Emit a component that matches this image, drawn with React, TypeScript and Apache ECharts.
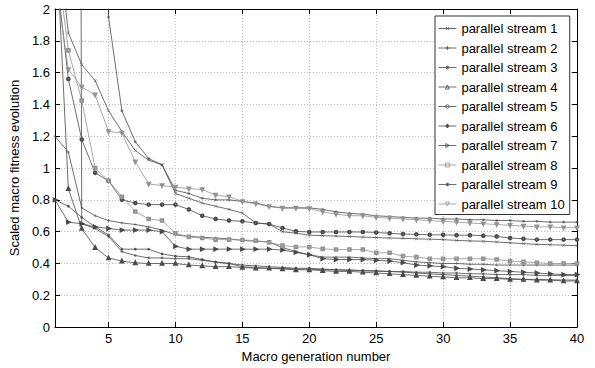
import React, { useEffect, useRef } from "react";
import * as echarts from "echarts";

const generations = [1, 2, 3, 4, 5, 6, 7, 8, 9, 10, 11, 12, 13, 14, 15, 16, 17, 18, 19, 20, 21, 22, 23, 24, 25, 26, 27, 28, 29, 30, 31, 32, 33, 34, 35, 36, 37, 38, 39, 40];
const xTickValues = [5, 10, 15, 20, 25, 30, 35, 40];

const streamNames = [
  "parallel stream 1", "parallel stream 2", "parallel stream 3", "parallel stream 4", "parallel stream 5",
  "parallel stream 6", "parallel stream 7", "parallel stream 8", "parallel stream 9", "parallel stream 10",
];

const stream1 = [2.6, 1.85, 1.65, 1.55, 1.36, 1.23, 1.11, 1.05, 1.02, 0.84, 0.81, 0.78, 0.76, 0.74, 0.717, 0.655, 0.648, 0.6, 0.59, 0.578, 0.575, 0.572, 0.57, 0.566, 0.563, 0.56, 0.558, 0.555, 0.553, 0.55, 0.545, 0.542, 0.54, 0.535, 0.53, 0.525, 0.52, 0.518, 0.515, 0.512];
const stream2 = [1.2, 1.1, 0.75, 0.7, 0.67, 0.655, 0.645, 0.63, 0.61, 0.58, 0.57, 0.565, 0.56, 0.555, 0.545, 0.54, 0.535, 0.5, 0.475, 0.455, 0.44, 0.44, 0.44, 0.435, 0.43, 0.43, 0.42, 0.41, 0.405, 0.4, 0.4, 0.395, 0.395, 0.39, 0.39, 0.39, 0.39, 0.39, 0.39, 0.39];
const stream3 = [30, 20, 12, 8, 1.95, 1.36, 1.165, 1.06, 1.02, 0.86, 0.84, 0.81, 0.8, 0.8, 0.79, 0.78, 0.76, 0.75, 0.75, 0.75, 0.74, 0.725, 0.715, 0.71, 0.7, 0.695, 0.69, 0.685, 0.685, 0.68, 0.68, 0.675, 0.675, 0.67, 0.67, 0.665, 0.665, 0.66, 0.66, 0.66];
const stream4 = [2.6, 0.87, 0.62, 0.5, 0.435, 0.415, 0.404, 0.4, 0.4, 0.4, 0.39, 0.385, 0.38, 0.38, 0.375, 0.37, 0.37, 0.365, 0.36, 0.36, 0.355, 0.35, 0.35, 0.345, 0.34, 0.335, 0.33, 0.325, 0.32, 0.315, 0.31, 0.31, 0.305, 0.305, 0.3, 0.3, 0.295, 0.295, 0.29, 0.29];
const stream5 = [2.3, 1.56, 1.18, 0.97, 0.92, 0.8, 0.78, 0.77, 0.77, 0.77, 0.74, 0.7, 0.68, 0.67, 0.665, 0.654, 0.648, 0.623, 0.602, 0.598, 0.598, 0.598, 0.598, 0.598, 0.595, 0.59, 0.585, 0.583, 0.58, 0.58, 0.578, 0.578, 0.575, 0.57, 0.56, 0.555, 0.55, 0.55, 0.55, 0.55];
const stream6 = [0.8, 0.76, 0.69, 0.63, 0.58, 0.49, 0.49, 0.49, 0.46, 0.446, 0.442, 0.425, 0.408, 0.4, 0.38, 0.375, 0.37, 0.37, 0.365, 0.365, 0.36, 0.36, 0.355, 0.355, 0.35, 0.35, 0.345, 0.34, 0.335, 0.33, 0.325, 0.32, 0.315, 0.31, 0.305, 0.3, 0.3, 0.298, 0.296, 0.296];
const stream7 = [0.8, 0.66, 0.65, 0.63, 0.62, 0.61, 0.61, 0.61, 0.6, 0.508, 0.49, 0.49, 0.49, 0.49, 0.49, 0.49, 0.49, 0.485, 0.47, 0.455, 0.43, 0.425, 0.425, 0.425, 0.42, 0.415, 0.405, 0.39, 0.385, 0.38, 0.37, 0.365, 0.36, 0.355, 0.35, 0.345, 0.34, 0.335, 0.33, 0.33];
const stream8 = [2.4, 1.74, 1.425, 1.0, 0.92, 0.82, 0.727, 0.68, 0.67, 0.59, 0.567, 0.56, 0.55, 0.55, 0.548, 0.544, 0.533, 0.5125, 0.504, 0.504, 0.492, 0.4875, 0.4875, 0.4875, 0.467, 0.467, 0.446, 0.44, 0.43, 0.43, 0.43, 0.43, 0.43, 0.425, 0.415, 0.41, 0.405, 0.4, 0.4, 0.4];
const stream9 = [40, 30, 0.65, 0.62, 0.57, 0.475, 0.45, 0.435, 0.435, 0.43, 0.43, 0.42, 0.41, 0.4, 0.39, 0.385, 0.38, 0.375, 0.37, 0.37, 0.365, 0.36, 0.36, 0.355, 0.355, 0.35, 0.35, 0.345, 0.345, 0.34, 0.34, 0.335, 0.335, 0.33, 0.33, 0.33, 0.325, 0.325, 0.325, 0.325];
const stream10 = [2.2, 1.62, 1.51, 1.46, 1.23, 1.22, 1.04, 0.9, 0.89, 0.88, 0.87, 0.865, 0.83, 0.82, 0.79, 0.775, 0.758, 0.748, 0.748, 0.745, 0.725, 0.71, 0.7, 0.7, 0.69, 0.685, 0.68, 0.675, 0.67, 0.665, 0.66, 0.655, 0.65, 0.645, 0.64, 0.635, 0.63, 0.63, 0.625, 0.625];

const streams = [stream1, stream2, stream3, stream4, stream5, stream6, stream7, stream8, stream9, stream10];

const CROSS = "path://M0,0L10,10M10,0L0,10";
const PLUS = "path://M5,0L5,10M0,5L10,5";
const STAR = "path://M5,0L5,10M0,5L10,5M1.5,1.5L8.5,8.5M8.5,1.5L1.5,8.5";

const markerStyles = [
  { symbol: CROSS, size: 3, rotate: 0 },
  { symbol: PLUS, size: 3, rotate: 0 },
  { symbol: STAR, size: 3, rotate: 0 },
  { symbol: "emptyTriangle", size: 2.6, rotate: 0 },
  { symbol: "emptyCircle", size: 2.6, rotate: 0 },
  { symbol: "circle", size: 2.2, rotate: 0 },
  { symbol: "emptyTriangle", size: 2.6, rotate: -90 },
  { symbol: "emptyRect", size: 2.6, rotate: 0 },
  { symbol: STAR, size: 3, rotate: 0 },
  { symbol: "emptyTriangle", size: 2.6, rotate: 180 },
];

// legend icons: sample line plus marker, drawn in an 18 x 4 box
const LINE = "M0,2L18,2";
const legendIcons = [
  "path://" + LINE + "M7.5,0.5L10.5,3.5M10.5,0.5L7.5,3.5",
  "path://" + LINE + "M9,0L9,4M7,2L11,2",
  "path://" + LINE + "M9,0L9,4M7.5,0.5L10.5,3.5M10.5,0.5L7.5,3.5",
  "path://" + LINE + "M9,0L11,4L7,4Z",
  "path://" + LINE + "M10.8,2A1.8,1.8,0,1,1,7.2,2A1.8,1.8,0,1,1,10.8,2Z",
  "path://" + LINE + "M10.4,2A1.4,1.4,0,1,1,7.6,2A1.4,1.4,0,1,1,10.4,2ZM9,0L9,4",
  "path://" + LINE + "M7.5,0L11,2L7.5,4Z",
  "path://" + LINE + "M7,0L11,0L11,4L7,4Z",
  "path://" + LINE + "M9,0L9,4M7.5,0.5L10.5,3.5M10.5,0.5L7.5,3.5",
  "path://" + LINE + "M7,0L11,0L9,4Z",
];
const legendIconFilled = [false, false, false, false, false, true, false, false, false, false];

const lineColors = ["#4a4a4a", "#4a4a4a", "#4a4a4a", "#4a4a4a", "#4a4a4a", "#4a4a4a", "#4a4a4a", "#939393", "#4a4a4a", "#939393"];

const FONT = "'Liberation Sans', Arial, Helvetica, sans-serif";

export default function App() {
  const ref = useRef<HTMLDivElement>(null);
  useEffect(() => {
    const chart = echarts.init(ref.current as HTMLDivElement, null, { renderer: "svg" });
    const grid = { type: [1, 2], color: "#b8b8b8", width: 1 };
    const series = streams.map((vals, i) => ({
      type: "line",
      name: streamNames[i],
      data: generations.map((g, j) => [g, vals[j]]),
      symbol: markerStyles[i].symbol,
      symbolSize: markerStyles[i].size,
      symbolRotate: markerStyles[i].rotate,
      showAllSymbol: true,
      clip: true,
      lineStyle: { color: lineColors[i], width: 0.8 },
      itemStyle: { color: lineColors[i], borderColor: lineColors[i], borderWidth: 0.5 },
      emphasis: { disabled: true },
      xAxisIndex: 0,
      yAxisIndex: 0,
    }));
    const legendData = streamNames.map((name, i) => ({
      name,
      icon: legendIcons[i],
      itemStyle: {
        color: legendIconFilled[i] ? lineColors[i] : "#ffffff",
        borderColor: lineColors[i],
        borderWidth: 0.8,
      },
    }));
    const option: any = {
      animation: false,
      backgroundColor: "#fff",
      textStyle: { fontFamily: FONT },
      grid: { left: 50, right: 18, top: 9, bottom: 40, containLabel: false },
      legend: {
        orient: "vertical",
        left: 435,
        top: 16,
        backgroundColor: "#fff",
        borderColor: "#333",
        borderWidth: 1,
        borderRadius: 0,
        padding: [6, 5, 4, 3],
        itemWidth: 18,
        itemHeight: 4,
        itemGap: 6.5,
        selectedMode: false,
        textStyle: { fontSize: 13, fontFamily: FONT, color: "#000" },
        data: legendData,
      },
      xAxis: [
        {
          type: "value",
          min: 1,
          max: 40,
          position: "bottom",
          name: "Macro generation number",
          nameLocation: "middle",
          nameGap: 18,
          nameTextStyle: { fontSize: 13, fontFamily: FONT, color: "#000" },
          axisLine: { show: true, onZero: false, lineStyle: { color: "#000", width: 1 } },
          axisTick: { show: true, inside: true, length: 5, customValues: xTickValues, lineStyle: { color: "#000" } },
          axisLabel: { customValues: xTickValues, fontSize: 13, fontFamily: FONT, color: "#000", margin: 5 },
          splitLine: { show: true, lineStyle: grid },
        },
        {
          type: "value",
          min: 1,
          max: 40,
          position: "top",
          axisLine: { show: true, onZero: false, lineStyle: { color: "#000", width: 1 } },
          axisTick: { show: true, inside: true, length: 5, customValues: xTickValues, lineStyle: { color: "#000" } },
          axisLabel: { show: false },
          splitLine: { show: false },
        },
      ],
      yAxis: [
        {
          type: "value",
          min: 0,
          max: 2,
          interval: 0.2,
          position: "left",
          name: "Scaled macro fitness evolution",
          nameLocation: "middle",
          nameGap: 24,
          nameTextStyle: { fontSize: 13, fontFamily: FONT, color: "#000" },
          axisLine: { show: true, onZero: false, lineStyle: { color: "#000", width: 1 } },
          axisTick: { show: true, inside: true, length: 5, lineStyle: { color: "#000" } },
          axisLabel: { fontSize: 13, fontFamily: FONT, color: "#000", margin: 5 },
          splitLine: { show: true, lineStyle: grid },
        },
        {
          type: "value",
          min: 0,
          max: 2,
          interval: 0.2,
          position: "right",
          axisLine: { show: true, onZero: false, lineStyle: { color: "#000", width: 1 } },
          axisTick: { show: true, inside: true, length: 5, lineStyle: { color: "#000" } },
          axisLabel: { show: false },
          splitLine: { show: false },
        },
      ],
      series,
    };
    chart.setOption(option);
    return () => chart.dispose();
  }, []);
  return <div ref={ref} style={{ position: "absolute", left: 0, top: 0, width: 595, height: 368 }} />;
}
